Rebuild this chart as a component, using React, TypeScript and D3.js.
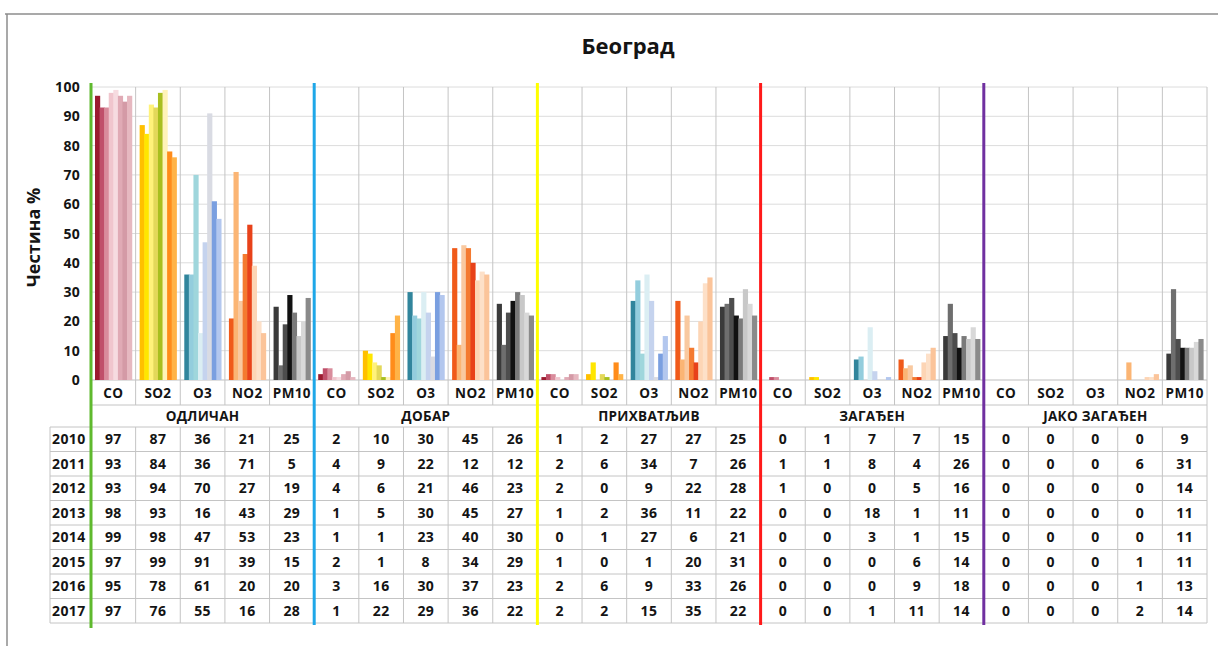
import React from "react";
import * as d3 from "d3";

const title = "Београд";
const yAxisTitle = "Честина %";
const years = ["2010", "2011", "2012", "2013", "2014", "2015", "2016", "2017"];
const pollutants = ["CO", "SO2", "O3", "NO2", "PM10"];
const categories = ["ОДЛИЧАН", "ДОБАР", "ПРИХВАТЉИВ", "ЗАГАЂЕН", "ЈАКО ЗАГАЂЕН"];
const yTicks = [0, 10, 20, 30, 40, 50, 60, 70, 80, 90, 100];

// rows = years, columns = CO, SO2, O3, NO2, PM10
const odlicanValues = [
  [97, 87, 36, 21, 25],
  [93, 84, 36, 71, 5],
  [93, 94, 70, 27, 19],
  [98, 93, 16, 43, 29],
  [99, 98, 47, 53, 23],
  [97, 99, 91, 39, 15],
  [95, 78, 61, 20, 20],
  [97, 76, 55, 16, 28],
];
const dobarValues = [
  [2, 10, 30, 45, 26],
  [4, 9, 22, 12, 12],
  [4, 6, 21, 46, 23],
  [1, 5, 30, 45, 27],
  [1, 1, 23, 40, 30],
  [2, 1, 8, 34, 29],
  [3, 16, 30, 37, 23],
  [1, 22, 29, 36, 22],
];
const prihvatljivValues = [
  [1, 2, 27, 27, 25],
  [2, 6, 34, 7, 26],
  [2, 0, 9, 22, 28],
  [1, 2, 36, 11, 22],
  [0, 1, 27, 6, 21],
  [1, 0, 1, 20, 31],
  [2, 6, 9, 33, 26],
  [2, 2, 15, 35, 22],
];
const zagadjenValues = [
  [0, 1, 7, 7, 15],
  [1, 1, 8, 4, 26],
  [1, 0, 0, 5, 16],
  [0, 0, 18, 1, 11],
  [0, 0, 3, 1, 15],
  [0, 0, 0, 6, 14],
  [0, 0, 0, 9, 18],
  [0, 0, 1, 11, 14],
];
const jakoZagadjenValues = [
  [0, 0, 0, 0, 9],
  [0, 0, 0, 6, 31],
  [0, 0, 0, 0, 14],
  [0, 0, 0, 0, 11],
  [0, 0, 0, 0, 11],
  [0, 0, 0, 1, 11],
  [0, 0, 0, 1, 13],
  [0, 0, 0, 2, 14],
];
const categoryValues = [odlicanValues, dobarValues, prihvatljivValues, zagadjenValues, jakoZagadjenValues];

const categoryLineColors = ["#5fb92e", "#1ea7e8", "#ffff00", "#ff1a1a", "#7030a0"];
const pollutantYearColors: Record<string, string[]> = {
  CO: ["#9b1b30", "#c0506a", "#d98c9c", "#f0c5cd", "#f6dbe0", "#e0aab5", "#d49aa6", "#e6b8c0"],
  SO2: ["#ffc000", "#ffe600", "#fff27a", "#e3d85a", "#a8bf1f", "#fff3b8", "#ff8c1a", "#ffb347"],
  O3: ["#31859c", "#93cddd", "#9fd6dc", "#dbeef3", "#c5d3ee", "#d9dbe3", "#7a9fe0", "#b3c7ee"],
  NO2: ["#f05a1a", "#fbb574", "#f9c9a0", "#f47a30", "#e8421a", "#fdd5b5", "#fde0c8", "#fbc49a"],
  PM10: ["#3a3a3a", "#6e6e6e", "#4d4d4d", "#111111", "#7a7a7a", "#c8c8c8", "#d8d8d8", "#8a8a8a"],
};

const W = 1218;
const H = 646;
const plotLeft = 91;
const plotRight = 1207;
const plotTop = 87;
const plotBottom = 380;
const labelRowBottom = 405;
const catRowBottom = 427;
const rowH = 24.5;
const tableLeft = 50;
const FONT = "'Open Sans', 'Noto Sans', sans-serif";
const TXT = "#141414";

export default function App() {
  const cellKeys: string[] = [];
  categories.forEach((c, ci) => pollutants.forEach((p) => cellKeys.push(`${ci}|${p}`)));

  const x = d3.scaleBand<string>().domain(cellKeys).range([plotLeft, plotRight]).padding(0);
  const cellW = x.bandwidth();
  const inner = d3.scaleBand<string>().domain(years).range([4, cellW - 4]).padding(0);
  const y = d3.scaleLinear().domain([0, 100]).range([plotBottom, plotTop]);
  const catX = (ci: number) => plotLeft + ci * 5 * cellW;
  const tableBottom = catRowBottom + rowH * years.length;

  const bars: JSX.Element[] = [];
  categories.forEach((_, ci) => {
    pollutants.forEach((p, pi) => {
      const x0 = x(`${ci}|${p}`)!;
      years.forEach((yr, yi) => {
        const v = categoryValues[ci][yi][pi];
        if (v <= 0) return;
        bars.push(
          <rect
            key={`b${ci}${pi}${yi}`}
            x={x0 + inner(yr)!}
            y={y(v)}
            width={inner.bandwidth() + 0.6}
            height={plotBottom - y(v)}
            fill={pollutantYearColors[p][yi]}
          />
        );
      });
    });
  });

  return (
    <svg width={W} height={H} style={{ position: "absolute", left: 0, top: 0, background: "#fff" }} fontFamily={FONT}>
      <rect x={0} y={0} width={W} height={H} fill="#fff" />
      {/* outer frame */}
      <line x1={5} x2={W} y1={14} y2={14} stroke="#8c8c8c" strokeWidth={1.5} />
      <line x1={7} x2={7} y1={14} y2={H} stroke="#8c8c8c" strokeWidth={1.5} />

      <text x={628} y={54} textAnchor="middle" fontSize={22} fontWeight="bold" fill={TXT}>{title}</text>

      {/* horizontal gridlines */}
      {yTicks.map((t) => (
        <line key={`g${t}`} x1={plotLeft} x2={plotRight} y1={y(t)} y2={y(t)} stroke={t === 0 ? "#bfbfbf" : "#dcdcdc"} strokeWidth={1} />
      ))}
      {/* y tick labels */}
      {yTicks.map((t) => (
        <text key={`t${t}`} x={80} y={y(t) + 5} textAnchor="end" fontSize={14} fontWeight="bold" fill={TXT} letterSpacing={0.3}>{t}</text>
      ))}
      <text transform={`translate(40,${(plotTop + plotBottom) / 2 + 4}) rotate(-90)`} textAnchor="middle" fontSize={18} fontWeight="bold" fill={TXT}>{yAxisTitle}</text>

      {/* vertical cell lines in plot + label row */}
      {cellKeys.map((k) => (
        <line key={`v${k}`} x1={x(k)!} x2={x(k)!} y1={plotTop} y2={labelRowBottom} stroke="#c4c4c4" strokeWidth={1} />
      ))}
      <line x1={plotRight} x2={plotRight} y1={plotTop} y2={tableBottom} stroke="#c4c4c4" strokeWidth={1} />

      {bars}

      {/* pollutant labels */}
      {cellKeys.map((k) => (
        <text key={`pl${k}`} x={x(k)! + cellW / 2} y={398} textAnchor="middle" fontSize={13.5} fontWeight="bold" fill={TXT} letterSpacing={0.4}>{k.split("|")[1]}</text>
      ))}

      {/* table */}
      <line x1={plotLeft} x2={plotRight} y1={labelRowBottom} y2={labelRowBottom} stroke="#c4c4c4" />
      {d3.range(years.length + 1).map((i) => (
        <line key={`h${i}`} x1={tableLeft} x2={plotRight} y1={catRowBottom + i * rowH} y2={catRowBottom + i * rowH} stroke="#c4c4c4" />
      ))}
      <line x1={tableLeft} x2={tableLeft} y1={catRowBottom} y2={tableBottom} stroke="#c4c4c4" />
      {cellKeys.map((k) => (
        <line key={`tv${k}`} x1={x(k)!} x2={x(k)!} y1={catRowBottom} y2={tableBottom} stroke="#c4c4c4" />
      ))}
      {categories.map((c, ci) => (
        <text key={`c${ci}`} x={catX(ci) + 2.5 * cellW} y={421} textAnchor="middle" fontSize={13.5} fontWeight="bold" fill={TXT} letterSpacing={0.3}>{c}</text>
      ))}
      {years.map((yr, yi) => (
        <text key={`yr${yr}`} x={tableLeft + 2} y={catRowBottom + yi * rowH + rowH / 2 + 5} fontSize={14} fontWeight="bold" fill={TXT} letterSpacing={0.4}>{yr}</text>
      ))}
      {categories.map((_, ci) =>
        years.map((yr, yi) =>
          pollutants.map((p, pi) => (
            <text
              key={`v${ci}${yi}${pi}`}
              x={x(`${ci}|${p}`)! + cellW / 2}
              y={catRowBottom + yi * rowH + rowH / 2 + 5}
              textAnchor="middle"
              fontSize={14}
              fontWeight="bold"
              fill={TXT}
              letterSpacing={0.4}
            >
              {categoryValues[ci][yi][pi]}
            </text>
          ))
        )
      )}

      {/* colored category separators */}
      {categories.map((_, ci) => (
        <line key={`cl${ci}`} x1={catX(ci)} x2={catX(ci)} y1={83} y2={ci === 0 ? 628 : tableBottom + 2} stroke={categoryLineColors[ci]} strokeWidth={3} />
      ))}
    </svg>
  );
}
